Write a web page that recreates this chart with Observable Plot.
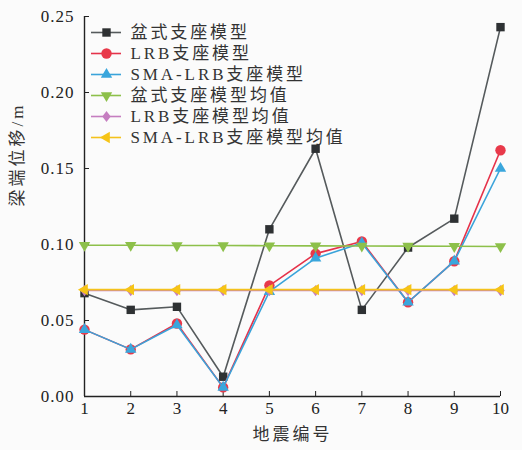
<!DOCTYPE html>
<html>
<head>
<meta charset="utf-8">
<script src="https://cdn.jsdelivr.net/npm/d3@7"></script>
<script src="https://cdn.jsdelivr.net/npm/@observablehq/plot@0.6"></script>
<style>
  html, body { margin: 0; padding: 0; background: #ffffff; }
  #chart { position: relative; width: 522px; height: 450px; }
  #chart svg { position: absolute; left: 0; top: 0; }
  #chart g[aria-label="y-axis tick label"] text { letter-spacing: 1px; }
</style>
</head>
<body>
<div id="chart"></div>
<script>
// Earthquake record numbers (x axis)
const quakes = [1, 2, 3, 4, 5, 6, 7, 8, 9, 10];
const yTicks = [0, 0.05, 0.10, 0.15, 0.20, 0.25];
const xTitle = "地震编号";
const yTitle = "梁端位移/m";

// Beam-end displacement (m) for each bearing model
const basin    = [0.068, 0.057, 0.059, 0.013, 0.110, 0.163, 0.057, 0.098, 0.117, 0.243];
const lrb      = [0.044, 0.031, 0.048, 0.006, 0.073, 0.094, 0.102, 0.062, 0.089, 0.162];
const smaLrb   = [0.044, 0.031, 0.047, 0.006, 0.069, 0.091, 0.101, 0.062, 0.089, 0.150];
// Mean values over all records
const basinMean  = [0.0995, 0.0995, 0.0993, 0.0993, 0.0992, 0.0991, 0.099, 0.0989, 0.0988, 0.0987];
const lrbMean    = [0.0697, 0.0697, 0.0697, 0.0697, 0.0697, 0.0697, 0.0697, 0.0697, 0.0697, 0.0697];
const smaLrbMean = [0.0703, 0.0703, 0.0703, 0.0703, 0.0703, 0.0703, 0.0703, 0.0703, 0.0703, 0.0703];

const names = ["盆式支座模型", "LRB支座模型", "SMA-LRB支座模型", "盆式支座模型均值", "LRB支座模型均值", "SMA-LRB支座模型均值"];

// Marker shapes; r is the half-size of each glyph in pixels
const sym = {
  square: {draw(c, s) { const r = Math.sqrt(s / Math.PI); c.rect(-r, -r, 2 * r, 2 * r); }},
  circle: {draw(c, s) { const r = Math.sqrt(s / Math.PI); c.moveTo(r, 0); c.arc(0, 0, r, 0, 2 * Math.PI); }},
  diamond: {draw(c, s) { const r = Math.sqrt(s / Math.PI); c.moveTo(0, -r); c.lineTo(r * 0.75, 0); c.lineTo(0, r); c.lineTo(-r * 0.75, 0); c.closePath(); }}
};
function triangle(deg) {
  return {draw(c, s) {
    const r = Math.sqrt(s / Math.PI);
    for (let k = 0; k < 3; ++k) {
      const a = (deg + k * 120) * Math.PI / 180;
      const x = r * Math.cos(a), y = r * Math.sin(a);
      k ? c.lineTo(x, y) : c.moveTo(x, y);
    }
    c.closePath();
  }};
}

const series = [
  {name: names[0], values: basin,      line: "#555a5c", fill: "#2e3133", symbol: sym.square,   r: 4.2},
  {name: names[1], values: lrb,        line: "#e5324a", fill: "#e8394a", symbol: sym.circle,   r: 5.2},
  {name: names[2], values: smaLrb,     line: "#3aa3da", fill: "#3aa6dc", symbol: triangle(-90), r: 6.6},
  {name: names[3], values: basinMean,  line: "#8dc04a", fill: "#8dc04a", symbol: triangle(90),  r: 6.6},
  {name: names[4], values: lrbMean,    line: "#c57ec0", fill: "#c57ec0", symbol: sym.diamond,  r: 5.6},
  {name: names[5], values: smaLrbMean, line: "#f4c21c", fill: "#f6c416", symbol: triangle(180), r: 6.6}
];

const serif = "'Liberation Serif', 'Times New Roman', 'Noto Sans CJK SC', serif";

const marks = [
  Plot.ruleX([1], {stroke: "#222", strokeWidth: 1.4}),
  Plot.ruleY([0], {stroke: "#222", strokeWidth: 1.4}),
  Plot.axisX(quakes, {tickSize: -5, tickPadding: 10, fontSize: 17, fontFamily: serif, color: "#222", label: null}),
  Plot.axisY(yTicks, {tickSize: -5, tickPadding: 15, fontSize: 17, fontFamily: serif, color: "#222",
    tickFormat: d3.format(".2f"), label: null}),
  // Axis titles
  Plot.text([xTitle], {frameAnchor: "bottom", dy: 43, text: d => d, fontSize: 17, fill: "#333"}),
  Plot.text([yTitle], {frameAnchor: "left", dx: -67, rotate: -90, text: d => d, fontSize: 17, fill: "#333"})
];
for (const s of series) {
  const data = quakes.map((q, i) => ({q, v: s.values[i]}));
  marks.push(Plot.line(data, {x: "q", y: "v", stroke: s.line, strokeWidth: 1.6}));
  marks.push(Plot.dot(data, {x: "q", y: "v", r: s.r, symbol: s.symbol, fill: s.fill, stroke: "none"}));
}

const chart = Plot.plot({
  width: 522,
  height: 450,
  marginLeft: 84,
  marginRight: 22,
  marginTop: 16,
  marginBottom: 54,
  style: {background: "#fbfbfb", fontFamily: serif, color: "#222"},
  x: {domain: [1, 10]},
  y: {domain: [0, 0.25]},
  marks
});
d3.select(chart).selectAll("text")
  .filter(function () { return this.textContent === xTitle || this.textContent === yTitle; })
  .attr("letter-spacing", "3px");

// Legend drawn in its own small plot layered over the top-left corner
const legend = Plot.plot({
  width: 360,
  height: 150,
  margin: 0,
  style: {background: "transparent", fontFamily: serif, color: "#222"},
  x: {domain: [0, 1], range: [91, 121], axis: null},
  y: {type: "point", domain: names, range: [31, 138], padding: 0, axis: null},
  marks: [
    ...series.map(s => Plot.ruleY([s.name], {x1: 0, x2: 1, stroke: s.line, strokeWidth: 1.6})),
    ...series.map(s => Plot.dot([s.name], {x: 0.5, y: d => d, r: s.r, symbol: s.symbol, fill: s.fill, stroke: "none"})),
    Plot.text(names, {x: 1, y: d => d, dx: 9, text: d => d, textAnchor: "start", fontSize: 17, fill: "#333"})
  ]
});
d3.select(legend).selectAll("text").attr("letter-spacing", "2.9px");

const root = document.getElementById("chart");
root.append(chart, legend);
</script>
</body>
</html>
